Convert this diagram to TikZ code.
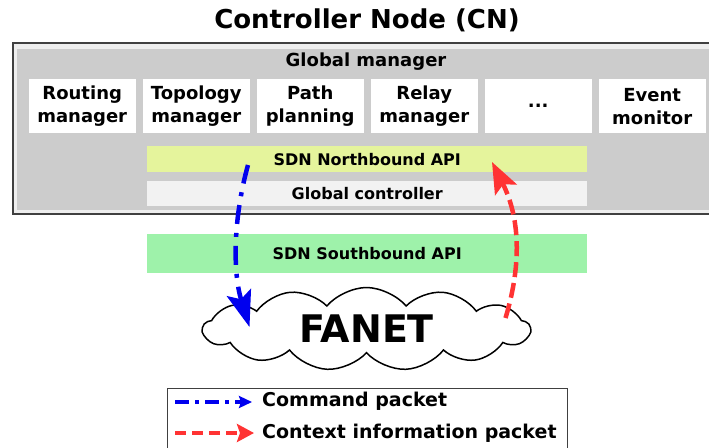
\documentclass[tikz,border=0pt]{standalone}
\usepackage{fontspec}
\setmainfont{DejaVu Sans}
\usetikzlibrary{arrows.meta,shapes.symbols,calc}
\definecolor{outerfill}{HTML}{EEEEEE}
\definecolor{gmgray}{HTML}{CCCCCC}
\definecolor{nbcol}{HTML}{E5F49C}
\definecolor{gccol}{HTML}{F2F2F2}
\definecolor{sbcol}{HTML}{9EF2AA}
\definecolor{cmdblue}{HTML}{0000EE}
\definecolor{ctxred}{HTML}{FF3333}
\tikzset{
  modbox/.style={fill=white, minimum width=107pt, minimum height=54pt, inner sep=0pt, align=center,
    font=\bfseries\fontsize{18}{23}\selectfont, anchor=north west},
  apibox/.style={minimum width=440pt, inner sep=0pt, anchor=north west, font=\bfseries\fontsize{16}{18}\selectfont},
  cmdline/.style={draw=cmdblue, line width=4.5pt, dash pattern=on 19pt off 9pt on 4pt off 9pt},
  ctxline/.style={draw=ctxred, line width=4.5pt, dash pattern=on 15pt off 6pt},
  cmdleg/.style={draw=cmdblue, line width=4pt, dash pattern=on 14pt off 6pt on 4pt off 6pt},
  ctxleg/.style={draw=ctxred, line width=4pt, dash pattern=on 11pt off 6pt},
  legtext/.style={anchor=west, inner sep=0pt, font=\bfseries\fontsize{19}{22}\selectfont}
}
\begin{document}
\begin{tikzpicture}[x=1pt,y=-1pt]
\useasboundingbox (0,0) rectangle (709,447);
% title
\node[font=\bfseries\fontsize{26}{30}\selectfont] (title) at (367,20) {Controller Node (CN)};
% outer box
\draw[draw=black!75, line width=1.2pt, fill=outerfill] (13,43) rectangle (730,214);
\fill[gmgray] (17,49) rectangle (726,210);
\node[font=\bfseries\fontsize{18}{22}\selectfont] (gm) at (366,62) {Global manager};
% modules
\node[modbox] (m1) at (28.5,79) {Routing\\manager};
\node[modbox] (m2) at (142.5,79) {Topology\\manager};
\node[modbox] (m3) at (256.5,79) {Path\\planning};
\node[modbox] (m4) at (370.5,79) {Relay\\manager};
\node[modbox] (m5) at (484.5,79) {...};
\node[modbox] (m6) at (598.5,79) {Event\\monitor};
% APIs
\node[apibox, fill=nbcol, minimum height=26pt] (nb) at (147,146) {SDN Northbound API};
\node[apibox, fill=gccol, minimum height=25pt] (gc) at (147,181) {Global controller};
\node[apibox, fill=sbcol, minimum height=39pt] (sb) at (147,234) {SDN Southbound API};
% cloud
\node[cloud, draw=black, line width=1.5pt, fill=white, cloud puffs=13, cloud puff arc=100,
      cloud ignores aspect, minimum width=327pt, minimum height=83pt, inner sep=0pt,
      font=\bfseries\fontsize{38}{40}\selectfont] (fanet) at (366.5,329) {FANET};
% connector endpoints
\coordinate (cmdstart) at ($(nb.north west)+(101,19)$);
\coordinate (cmdend) at ($(fanet.center)+(-117,-2)$);
\coordinate (ctxstart) at ($(fanet.center)+(139,-11)$);
\coordinate (ctxend) at ($(nb.north west)+(345,16)$);
\draw[cmdline, -{Stealth[length=36pt,width=25pt,inset=7pt]}]
  (cmdstart) .. controls (234,215) and (232,270) .. (cmdend);
\draw[ctxline, -{Stealth[length=31pt,width=24pt,inset=6pt]}]
  (ctxstart) .. controls (520,270) and (522,222) .. (ctxend);
% legend
\draw[black!75, line width=1pt, fill=white] (167,388) rectangle (567,470);
\coordinate (l1a) at (175,402);
\coordinate (l1b) at (252,402);
\coordinate (l2a) at (175,433);
\coordinate (l2b) at (254,433);
\draw[cmdleg, -{Stealth[length=13pt,width=12pt,inset=2pt]}] (l1a) -- (l1b);
\draw[ctxleg, -{Stealth[length=17pt,width=18pt,inset=3pt]}] (l2a) -- (l2b);
\node[legtext] (lt1) at (262,401) {Command packet};
\node[legtext] (lt2) at (262,433) {Context information packet};
\end{tikzpicture}
\end{document}
